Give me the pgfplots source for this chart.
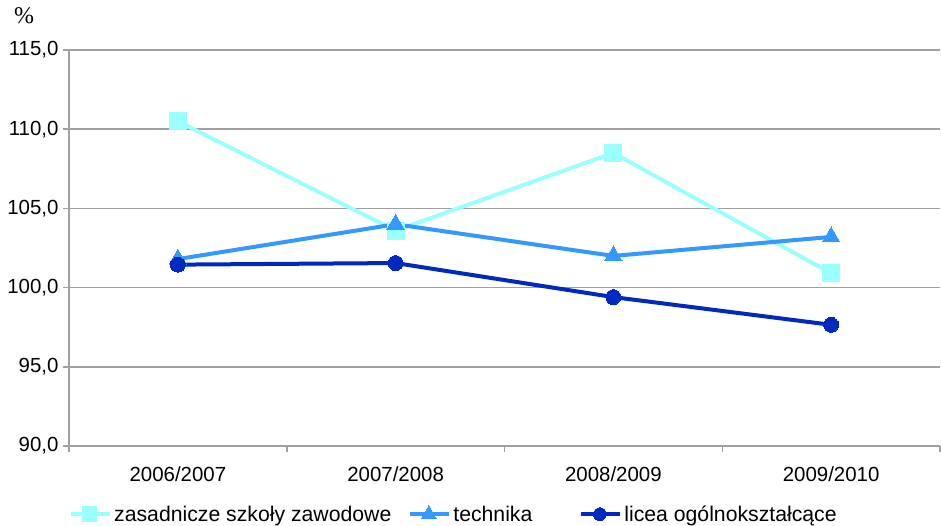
\documentclass[border=0pt]{standalone}
\usepackage{pgfplots}
\pgfplotsset{compat=1.18}
\usepackage{fontspec}
\setmainfont{Liberation Sans}
\newfontfamily\serif{Liberation Serif}
\definecolor{czas}{HTML}{99FFFF}
\definecolor{ctech}{HTML}{3399FF}
\definecolor{clic}{HTML}{0029C0}
\definecolor{cgrid}{HTML}{A0A0A0}
\begin{document}
\begin{tikzpicture}
\begin{axis}[
  scale only axis,
  width=871bp, height=396bp,
  xmin=-0.5, xmax=3.5,
  ymin=90, ymax=115,
  ytick={90,95,...,115},
  xtick={0,1,2,3},
  xticklabels={2006/2007,2007/2008,2008/2009,2009/2010},
  minor xtick={-0.5,0.5,1.5,2.5,3.5},
  major x tick style={draw=none},
  tick align=outside,
  major tick length=6bp,
  minor tick length=6bp,
  ymajorgrids,
  grid style={cgrid, line width=1.5bp},
  axis x line*=bottom,
  axis y line*=left,
  axis line style={cgrid, line width=1.5bp},
  every tick/.style={cgrid, line width=1.5bp},
  tick label style={font=\fontsize{20.5}{24}\selectfont},
  xticklabel style={yshift=-11bp},
  yticklabel style={xshift=-1bp},
  /pgf/number format/.cd, fixed, fixed zerofill, precision=1, use comma, 1000 sep={}, assume math mode=true,
  /pgfplots/.cd,
  clip=false,
  legend columns=3,
  legend style={draw=none, fill=none, inner sep=0pt, at={(rel axis cs:0,-0.172)}, anchor=west,
    font=\fontsize{21.3}{24}\selectfont, /tikz/every even column/.append style={column sep=15bp}},
  legend image code/.code={\draw[#1] (0bp,0bp) -- (37bp,0bp); \draw[#1, every mark/.append style={scale=0.85}, mark repeat=2, mark phase=2] plot coordinates {(0bp,0bp) (18.5bp,0bp) (37bp,0bp)}; \path (0bp,0bp) -- (39bp,0bp);},
]
\addplot[czas, line width=4bp, mark=square*, mark size=8.5bp, mark options={solid, fill=czas, draw=czas, line width=0pt}]
  coordinates {(0,110.5) (1,103.6) (2,108.5) (3,100.9)};
\addlegendentry{zasadnicze szkoły zawodowe}
\addplot[ctech, line width=4bp, mark=triangle*, mark size=10bp, mark options={solid, fill=ctech, draw=ctech, line width=0pt}]
  coordinates {(0,101.8) (1,104.0) (2,102.0) (3,103.2)};
\addlegendentry{technika\rule{30bp}{0pt}}
\addplot[clic, line width=4bp, mark=*, mark size=7.5bp, mark options={solid, fill=clic, draw=clic, line width=0pt}]
  coordinates {(0,101.45) (1,101.55) (2,99.4) (3,97.65)};
\addlegendentry{licea ogólnokształcące}
\node[font=\serif\fontsize{24}{26}\selectfont, anchor=center] at ([xshift=-45bp, yshift=34bp]rel axis cs:0,1) {\%};
\end{axis}
\pgfresetboundingbox
\path ([xshift=-69bp,yshift=-80bp]current axis.south west) rectangle ([xshift=1bp,yshift=50bp]current axis.north east);
\end{tikzpicture}
\end{document}
